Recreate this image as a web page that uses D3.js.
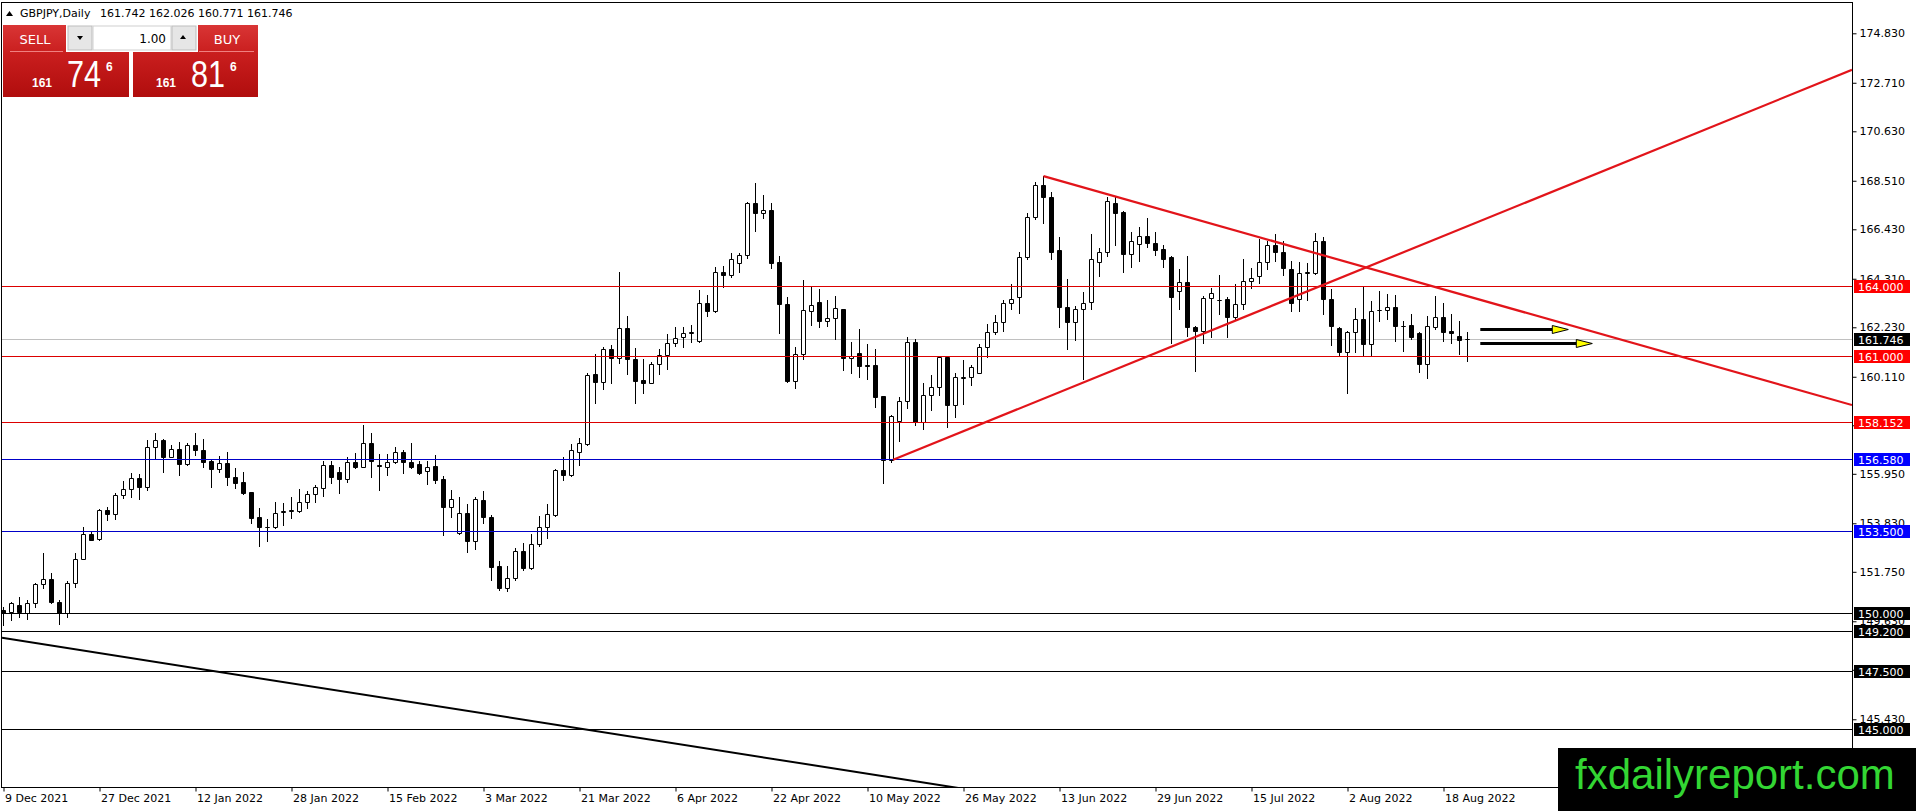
<!DOCTYPE html>
<html>
<head>
<meta charset="utf-8">
<script src="https://cdn.jsdelivr.net/npm/d3@7"></script>
<style>
  html, body { margin: 0; padding: 0; background: #fff; overflow: hidden; }
  svg { display: block; font-family: "DejaVu Sans", sans-serif; }
</style>
</head>
<body>
<svg id="chart" width="1916" height="811"></svg>
<script>
'use strict';

// GBPJPY daily candles, 9 Dec 2021 .. 22 Aug 2022
var opens = [
  150.11, 150.04, 150.33, 150.00, 150.40, 151.21, 151.43, 150.44, 150.00, 151.28,
  152.29, 153.36, 153.14, 154.40, 154.21, 155.03, 155.29, 155.76, 155.40, 157.11,
  157.40, 156.69, 157.00, 156.36, 157.17, 156.99, 156.49, 156.14, 156.43, 155.80,
  155.60, 155.18, 154.08, 153.68, 153.69, 154.33, 154.36, 154.37, 154.76, 155.07,
  155.33, 156.31, 156.01, 155.74, 156.44, 156.26, 157.29, 156.31, 156.26, 156.47,
  156.90, 156.44, 156.36, 156.06, 156.28, 155.71, 154.51, 153.40, 154.29, 153.09,
  154.83, 154.09, 152.00, 151.04, 151.50, 152.64, 151.93, 152.93, 153.66, 154.19,
  156.11, 155.90, 156.90, 157.23, 160.23, 159.90, 161.29, 160.90, 162.19, 160.86,
  159.97, 159.83, 160.66, 161.03, 161.54, 161.80, 162.00, 161.66, 163.29, 162.94,
  164.61, 164.47, 165.00, 165.31, 167.54, 167.11, 167.24, 165.04, 163.21, 159.94,
  161.07, 162.94, 163.33, 162.51, 162.61, 163.00, 160.90, 161.11, 160.62, 160.60,
  159.29, 156.54, 158.23, 159.09, 161.61, 158.19, 159.33, 159.66, 160.97, 158.90,
  160.06, 160.09, 160.26, 161.40, 162.04, 162.44, 163.26, 163.51, 165.23, 166.94,
  168.33, 167.80, 165.54, 163.09, 162.47, 163.00, 163.33, 165.04, 165.47, 167.54,
  167.19, 165.37, 165.80, 166.14, 165.83, 165.57, 165.23, 163.80, 164.19, 162.23,
  162.09, 163.47, 163.41, 163.43, 162.69, 163.23, 164.23, 164.43, 165.04, 165.76,
  165.47, 164.71, 163.43, 164.57, 164.57, 165.94, 163.43, 162.19, 161.19, 162.04,
  162.57, 161.51, 162.97, 162.99, 163.09, 162.30, 162.33, 161.97, 160.66, 162.26,
  162.69, 162.07, 161.86, 161.742
];
var highs = [
  150.26, 150.47, 150.69, 150.54, 151.28, 152.57, 151.68, 150.54, 151.37, 152.54,
  153.66, 153.51, 154.43, 154.51, 155.11, 155.64, 155.97, 155.93, 157.40, 157.71,
  157.43, 157.17, 157.33, 157.26, 157.69, 157.43, 156.57, 156.71, 156.89, 156.19,
  156.01, 155.18, 154.47, 154.00, 154.76, 154.71, 154.94, 155.28, 155.23, 155.47,
  156.51, 156.51, 156.26, 156.68, 156.83, 158.03, 157.69, 156.80, 156.80, 157.08,
  156.97, 157.29, 156.51, 156.51, 156.76, 155.86, 155.26, 154.94, 154.66, 154.94,
  155.23, 154.19, 152.21, 152.00, 152.78, 152.97, 153.37, 154.14, 154.64, 156.14,
  156.66, 157.23, 157.47, 160.29, 161.09, 161.40, 161.47, 164.59, 162.71, 161.33,
  160.86, 160.76, 161.29, 161.94, 162.23, 162.23, 162.33, 163.83, 163.61, 164.83,
  164.86, 165.40, 165.40, 167.61, 168.40, 167.90, 167.54, 165.29, 163.54, 161.37,
  164.26, 164.00, 163.86, 163.40, 163.57, 163.00, 161.61, 162.14, 161.51, 161.28,
  159.29, 158.47, 159.26, 161.83, 161.71, 159.86, 160.19, 160.97, 160.97, 160.26,
  160.83, 160.61, 161.51, 162.37, 162.76, 163.40, 164.09, 165.47, 167.11, 168.47,
  168.71, 168.04, 166.09, 164.29, 163.14, 163.76, 166.23, 165.61, 167.80, 167.80,
  167.23, 166.33, 166.54, 166.90, 166.33, 165.76, 165.29, 164.71, 165.29, 162.29,
  163.57, 163.90, 164.47, 163.51, 164.09, 165.14, 164.76, 166.00, 165.94, 166.23,
  165.94, 165.09, 165.04, 165.00, 166.29, 166.09, 163.86, 162.23, 162.09, 163.04,
  163.94, 163.37, 163.80, 163.66, 163.61, 162.51, 162.80, 162.04, 162.71, 163.57,
  163.26, 162.80, 162.51, 162.026
];
var lows = [
  149.47, 149.69, 149.83, 149.71, 150.23, 151.04, 150.40, 149.51, 149.83, 151.09,
  152.29, 153.10, 153.11, 153.97, 154.00, 154.90, 154.97, 154.86, 155.26, 156.57,
  156.04, 156.69, 155.90, 156.31, 156.76, 156.26, 155.40, 156.04, 155.46, 155.33,
  155.09, 153.86, 152.86, 153.08, 153.61, 153.76, 154.04, 154.33, 154.47, 154.76,
  155.00, 155.54, 155.11, 155.61, 156.19, 156.23, 155.83, 155.26, 155.90, 156.40,
  156.00, 156.19, 155.94, 155.50, 155.57, 153.33, 154.11, 153.37, 152.61, 152.73,
  153.83, 151.40, 150.97, 150.93, 151.40, 151.83, 151.87, 152.87, 153.19, 154.14,
  155.69, 155.86, 156.33, 157.19, 159.00, 159.57, 159.83, 160.71, 160.23, 159.00,
  159.40, 159.83, 160.23, 160.46, 161.43, 161.37, 161.61, 161.61, 162.71, 162.90,
  163.97, 164.37, 164.61, 165.19, 166.37, 166.90, 164.76, 162.00, 159.90, 159.61,
  160.86, 162.33, 162.26, 162.28, 161.71, 160.40, 160.29, 160.11, 160.00, 158.80,
  155.57, 156.47, 157.37, 158.76, 158.04, 157.86, 158.69, 159.33, 157.94, 158.37,
  158.94, 159.76, 160.26, 160.94, 161.94, 162.08, 163.00, 162.86, 165.14, 166.86,
  166.69, 165.14, 162.23, 161.31, 161.68, 160.00, 163.00, 164.43, 165.29, 165.76,
  164.61, 164.80, 165.09, 165.69, 165.33, 164.80, 161.57, 163.00, 161.86, 160.37,
  161.54, 161.80, 162.80, 161.80, 162.54, 163.00, 163.90, 164.14, 164.71, 165.09,
  164.47, 162.94, 162.94, 163.40, 164.51, 162.80, 161.47, 161.00, 159.40, 161.19,
  161.04, 161.04, 162.51, 162.57, 161.66, 161.23, 161.71, 160.33, 160.04, 162.14,
  161.66, 161.57, 161.09, 160.771
];
var closes = [
  149.97, 150.40, 150.04, 150.40, 151.23, 151.43, 150.47, 150.00, 151.28, 152.29,
  153.36, 153.11, 154.40, 154.21, 155.03, 155.29, 155.76, 155.40, 157.11, 157.40,
  156.69, 157.00, 156.36, 157.17, 156.97, 156.47, 156.17, 156.43, 155.80, 155.57,
  155.14, 154.04, 153.66, 153.66, 154.29, 154.35, 154.39, 154.76, 155.07, 155.37,
  156.31, 155.80, 155.74, 156.44, 156.26, 157.29, 156.51, 156.28, 156.44, 156.87,
  156.44, 156.26, 156.00, 156.26, 155.69, 154.51, 154.87, 154.29, 153.09, 154.86,
  154.09, 151.94, 151.07, 151.50, 152.64, 151.93, 152.93, 153.66, 154.21, 156.11,
  155.90, 156.97, 157.26, 160.19, 159.90, 161.29, 160.90, 162.19, 160.86, 159.94,
  159.86, 160.66, 161.03, 161.54, 161.76, 162.00, 162.02, 163.29, 162.94, 164.61,
  164.47, 165.14, 165.31, 167.54, 167.11, 167.24, 165.00, 163.21, 159.94, 161.07,
  162.97, 163.19, 162.51, 162.61, 163.04, 160.90, 161.01, 160.57, 160.58, 159.23,
  156.54, 158.43, 159.09, 161.61, 158.19, 159.33, 159.69, 160.97, 158.90, 160.09,
  160.09, 160.51, 161.37, 162.04, 162.44, 163.26, 163.43, 165.23, 166.94, 168.33,
  167.80, 165.47, 163.09, 162.47, 163.00, 163.28, 165.14, 165.47, 167.66, 167.14,
  165.37, 165.93, 166.14, 165.83, 165.54, 165.14, 163.54, 164.19, 162.26, 162.09,
  163.47, 163.69, 163.39, 162.69, 163.23, 164.23, 164.33, 165.04, 165.76, 165.47,
  164.76, 163.29, 164.57, 164.59, 165.94, 163.43, 162.29, 161.19, 162.04, 162.57,
  161.51, 162.94, 162.99, 163.09, 162.29, 162.28, 161.83, 160.66, 162.29, 162.66,
  162.04, 162.00, 161.69, 161.746
];

var dateLabels = ['9 Dec 2021', '27 Dec 2021', '12 Jan 2022', '28 Jan 2022',
  '15 Feb 2022', '3 Mar 2022', '21 Mar 2022', '6 Apr 2022', '22 Apr 2022',
  '10 May 2022', '26 May 2022', '13 Jun 2022', '29 Jun 2022', '15 Jul 2022',
  '2 Aug 2022', '18 Aug 2022'];
var dateLabelBars = [0, 12, 24, 36, 48, 60, 72, 84, 96, 108, 120, 132, 144, 156, 168, 180];

var priceTicks = [174.83, 172.71, 170.63, 168.51, 166.43, 164.31, 162.23, 160.11,
  158.03, 155.95, 153.83, 151.75, 149.63, 147.55, 145.43];

var redLevels = [164.0, 161.0, 158.152];
var blueLevels = [156.58, 153.5];
var blackLevels = [150.0, 149.2, 147.5, 145.0];
var bidPrice = 161.746;

// trend lines as two [bar, price] anchors
var fallingLine = [[130, 168.71], [230, 159.0]];
var risingLine = [[111.2, 156.55], [231.1, 173.27]];
var blackLine = [[0, 148.91], [120, 142.45]];

// arrows: start bar, end bar (before the head), price
var arrowStarts = [184.6, 184.6];
var arrowEnds = [193.6, 196.6];
var arrowPrices = [162.14, 161.56];

var header = 'GBPJPY,Daily';
var headerQuote = '161.742 162.026 160.771 161.746';

// ---------------------------------------------------------------------------

var plot = { left: 2, top: 3, right: 1852, bottom: 787 };
var RED = '#dc0000', BLUE = '#0000c8', TREND = '#e2141a';

var svg = d3.select('#chart');

var x = d3.scaleLinear()
  .domain([0, opens.length - 1])
  .range([3.5, 3.5 + 8 * (opens.length - 1)]);
var y = d3.scaleLinear().domain([145, 174.83]).range([729.3, 33.3]);

function py(p) { return Math.round(y(p)) + 0.5; }

svg.append('rect').attr('width', 1916).attr('height', 811).attr('fill', '#fff');

svg.append('clipPath').attr('id', 'plotclip')
  .append('rect')
  .attr('x', plot.left).attr('y', plot.top)
  .attr('width', plot.right - plot.left).attr('height', plot.bottom - plot.top);

var plotG = svg.append('g').attr('clip-path', 'url(#plotclip)');

// bid line
plotG.append('line')
  .attr('x1', plot.left).attr('x2', plot.right)
  .attr('y1', py(bidPrice)).attr('y2', py(bidPrice))
  .attr('stroke', '#c0c0c0').attr('stroke-width', 1);

// candles
var bars = d3.range(opens.length).map(function(i) {
  return { i: i, o: opens[i], h: highs[i], l: lows[i], c: closes[i] };
});

var candleG = plotG.append('g');
candleG.selectAll('line').data(bars).enter().append('line')
  .attr('x1', function(d) { return x(d.i); })
  .attr('x2', function(d) { return x(d.i); })
  .attr('y1', function(d) { return Math.round(y(d.h)); })
  .attr('y2', function(d) { return Math.round(y(d.l)) + 1; })
  .attr('stroke', '#000').attr('stroke-width', 1);
candleG.selectAll('path').data(bars).enter().append('path')
  .attr('d', function(d) {
    var x0 = x(d.i) - 2, x1 = x(d.i) + 2;
    var y0 = py(d.o), y1 = py(d.c);
    return 'M' + x0 + ',' + y0 + 'H' + x1 + 'V' + y1 + 'H' + x0 + 'Z';
  })
  .attr('fill', function(d) { return d.c >= d.o ? '#fff' : '#000'; })
  .attr('stroke', '#000').attr('stroke-width', 1);

// horizontal levels
function levelLines(levels, colour) {
  plotG.append('g').selectAll('line').data(levels).enter().append('line')
    .attr('x1', plot.left).attr('x2', plot.right)
    .attr('y1', function(d) { return py(d); })
    .attr('y2', function(d) { return py(d); })
    .attr('stroke', colour).attr('stroke-width', 1);
}
levelLines(redLevels, RED);
levelLines(blueLevels, BLUE);
levelLines(blackLevels, '#000');

// trend lines
function priceAt(line, bar) {
  var a = line[0], b = line[1];
  return a[1] + (b[1] - a[1]) * (bar - a[0]) / (b[0] - a[0]);
}
var rightBar = x.invert(plot.right), leftBar = x.invert(plot.left);

function trend(line, fromBar, toBar, colour, width) {
  plotG.append('line')
    .attr('x1', x(fromBar)).attr('y1', y(priceAt(line, fromBar)))
    .attr('x2', x(toBar)).attr('y2', y(priceAt(line, toBar)))
    .attr('stroke', colour).attr('stroke-width', width);
}
trend(fallingLine, fallingLine[0][0], rightBar, TREND, 2.2);
trend(risingLine, risingLine[0][0], rightBar, TREND, 2.2);
trend(blackLine, leftBar, rightBar, '#000', 2);

// arrows
var arrowG = plotG.append('g');
arrowPrices.forEach(function(p, k) {
  var ya = py(p);
  arrowG.append('line')
    .attr('x1', x(arrowStarts[k])).attr('x2', x(arrowEnds[k]))
    .attr('y1', ya).attr('y2', ya)
    .attr('stroke', '#000').attr('stroke-width', 3);
  var xe = x(arrowEnds[k]);
  arrowG.append('path')
    .attr('d', 'M' + xe + ',' + (ya - 4) + 'L' + (xe + 16) + ',' + ya +
      'L' + xe + ',' + (ya + 4) + 'Z')
    .attr('fill', '#ffff00').attr('stroke', '#000').attr('stroke-width', 1);
});

// frame
svg.append('rect')
  .attr('x', plot.left - 0.5).attr('y', plot.top - 0.5)
  .attr('width', plot.right - plot.left + 1).attr('height', plot.bottom - plot.top + 1)
  .attr('fill', 'none').attr('stroke', '#000').attr('stroke-width', 1);

// price axis
var yAxis = d3.axisRight(y)
  .tickValues(priceTicks)
  .tickFormat(d3.format('.3f'))
  .tickSize(4).tickPadding(3);
var yAxisG = svg.append('g')
  .attr('transform', 'translate(' + (plot.right + 0.5) + ',0)')
  .call(yAxis);
yAxisG.select('.domain').remove();
yAxisG.selectAll('.tick line').attr('stroke', '#000');
yAxisG.selectAll('.tick text')
  .attr('font-family', '"DejaVu Sans", sans-serif')
  .attr('font-size', 11).attr('fill', '#000');

// date axis
var xAxis = d3.axisBottom(x)
  .tickValues(dateLabelBars)
  .tickFormat(function(d, i) { return dateLabels[i]; })
  .tickSize(4).tickPadding(3);
var xAxisG = svg.append('g')
  .attr('transform', 'translate(0,' + (plot.bottom + 0.5) + ')')
  .call(xAxis);
xAxisG.select('.domain').remove();
xAxisG.selectAll('.tick line').attr('stroke', '#000');
xAxisG.selectAll('.tick text')
  .attr('text-anchor', 'start').attr('x', 1)
  .attr('font-family', '"DejaVu Sans", sans-serif')
  .attr('font-size', 11).attr('fill', '#000');

// level tags on the price axis
function levelTags(levels, bg) {
  var g = svg.append('g').selectAll('g').data(levels).enter().append('g')
    .attr('transform', function(d) { return 'translate(1854,' + Math.round(y(d)) + ')'; });
  g.append('rect').attr('x', 0).attr('y', -6).attr('width', 56).attr('height', 13)
    .attr('fill', bg);
  g.append('text').attr('x', 4).attr('y', 4.5)
    .attr('font-size', 11).attr('fill', '#fff')
    .text(function(d) { return d3.format('.3f')(d); });
}
levelTags(blackLevels, '#000');
levelTags(blueLevels, '#0000ff');
levelTags(redLevels, '#ff0000');
levelTags([bidPrice], '#000');

// header
svg.append('path').attr('d', 'M6,16L13,16L9.5,11Z').attr('fill', '#000');
svg.append('text').attr('x', 20).attr('y', 16.5).attr('font-size', 11).text(header);
svg.append('text').attr('x', 100).attr('y', 16.5).attr('font-size', 11).text(headerQuote);

// one-click trading panel
var defs = svg.append('defs');
var grad = defs.append('linearGradient').attr('id', 'redgrad')
  .attr('x1', 0).attr('y1', 0).attr('x2', 0).attr('y2', 1);
grad.append('stop').attr('offset', '0%').attr('stop-color', '#d93535');
grad.append('stop').attr('offset', '40%').attr('stop-color', '#c91e1e');
grad.append('stop').attr('offset', '100%').attr('stop-color', '#b00d0d');

var panel = svg.append('g');
panel.append('rect').attr('x', 3).attr('y', 25).attr('width', 126).attr('height', 72)
  .attr('fill', 'url(#redgrad)');
panel.append('rect').attr('x', 133).attr('y', 25).attr('width', 125).attr('height', 72)
  .attr('fill', 'url(#redgrad)');
panel.append('rect').attr('x', 66).attr('y', 25).attr('width', 132).attr('height', 27)
  .attr('fill', '#fff');
panel.append('rect').attr('x', 68).attr('y', 26).attr('width', 24).attr('height', 24)
  .attr('fill', '#e6e6e6').attr('stroke', '#bdbdbd');
panel.append('rect').attr('x', 93).attr('y', 26).attr('width', 78).attr('height', 24)
  .attr('fill', '#fff').attr('stroke', '#d0d0d0');
panel.append('rect').attr('x', 172).attr('y', 26).attr('width', 24).attr('height', 24)
  .attr('fill', '#e6e6e6').attr('stroke', '#bdbdbd');
panel.append('path').attr('d', 'M77,36L83,36L80,40Z').attr('fill', '#000');
panel.append('path').attr('d', 'M180,39L186,39L183,35Z').attr('fill', '#000');
panel.append('text').attr('x', 166).attr('y', 43).attr('text-anchor', 'end')
  .attr('font-size', 12).attr('fill', '#000').text('1.00');
panel.append('line').attr('x1', 10).attr('x2', 63).attr('y1', 51.5).attr('y2', 51.5)
  .attr('stroke', '#f08080');
panel.append('line').attr('x1', 199).attr('x2', 254).attr('y1', 51.5).attr('y2', 51.5)
  .attr('stroke', '#f08080');
panel.append('text').attr('x', 35).attr('y', 44).attr('text-anchor', 'middle')
  .attr('font-size', 13).attr('fill', '#fff').text('SELL');
panel.append('text').attr('x', 227).attr('y', 44).attr('text-anchor', 'middle')
  .attr('font-size', 13).attr('fill', '#fff').text('BUY');

function quote(x0, big, small) {
  panel.append('text').attr('x', x0).attr('y', 87)
    .attr('font-family', '"Liberation Sans", sans-serif').attr('font-weight', 'bold')
    .attr('font-size', 12).attr('fill', '#fff').text('161');
  panel.append('text').attr('x', x0 + 35).attr('y', 87)
    .attr('font-family', '"Liberation Sans", sans-serif')
    .attr('font-size', 37).attr('fill', '#fff')
    .attr('textLength', 34).attr('lengthAdjust', 'spacingAndGlyphs').text(big);
  panel.append('text').attr('x', x0 + 74).attr('y', 71)
    .attr('font-family', '"Liberation Sans", sans-serif').attr('font-weight', 'bold')
    .attr('font-size', 12).attr('fill', '#fff').text(small);
}
quote(32, '74', '6');
quote(156, '81', '6');

// watermark
svg.append('rect').attr('x', 1558).attr('y', 748).attr('width', 358).attr('height', 63)
  .attr('fill', '#000');
svg.append('text').attr('x', 1575).attr('y', 789)
  .attr('font-family', '"Liberation Sans", Arial, sans-serif')
  .attr('font-size', 42).attr('fill', '#33d633')
  .text('fxdailyreport.com');
</script>
</body>
</html>
